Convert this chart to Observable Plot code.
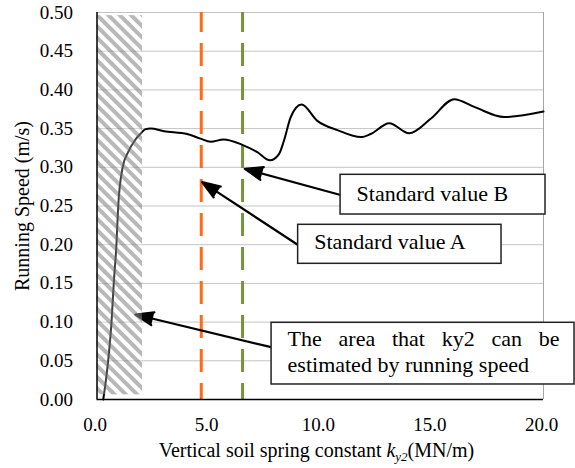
<!DOCTYPE html>
<html><head><meta charset="utf-8">
<script src="https://cdn.jsdelivr.net/npm/d3@7"></script>
<script src="https://cdn.jsdelivr.net/npm/@observablehq/plot@0.6"></script>
<style>body{margin:0;background:#fff} svg{display:block} svg, svg text{font-family:'Liberation Serif','Times New Roman',serif !important}</style>
</head><body><div id="chart"></div>
<script>
// Curve: vertical soil spring constant (MN/m) vs running speed (m/s)
const ky2   = [0.28, 0.50, 0.65, 0.75, 0.87, 0.95, 1.15, 1.40, 1.70, 1.97, 2.15, 2.40, 3.0, 4.04, 4.64, 5.09, 5.67, 6.51, 7.18, 7.75, 8.15, 8.38, 8.68, 9.16, 9.87, 10.77, 11.82, 12.26, 13.09, 13.98, 14.96, 16.0, 16.9, 18.24, 20.0];
const speed = [0.0, 0.05, 0.10, 0.15, 0.20, 0.25, 0.30, 0.32, 0.335, 0.344, 0.349, 0.350, 0.3467, 0.343, 0.337, 0.333, 0.336, 0.329, 0.3195, 0.309, 0.317, 0.335, 0.365, 0.381, 0.360, 0.348, 0.339, 0.343, 0.357, 0.344, 0.363, 0.388, 0.378, 0.365, 0.372];

const xTicks = [0, 5, 10, 15, 20];
const yTicks = [0, 0.05, 0.10, 0.15, 0.20, 0.25, 0.30, 0.35, 0.40, 0.45, 0.50];

// Standard values (dashed vertical lines)
const standardX = [4.67, 6.52];
const standardColors = ["#FF6A13", "#77933C"];

// Hatched area where ky2 can be estimated
const hatchX = [0, 2.04];
const hatchY = [0.006, 0.496];

// Annotation boxes (data units)
const boxX1 = [10.91, 9.01, 7.82];
const boxX2 = [20.09, 18.12, 21.39];
const boxY1 = [0.2390, 0.1753, 0.0194];
const boxY2 = [0.2903, 0.2257, 0.0991];

const labels = ["Standard value B", "Standard value A", "The area that ky2 can be", "estimated by running speed"];
const labelX = [10.91, 9.01, 7.82, 7.82];
const labelY = [0.266, 0.204, 0.0788, 0.0443];

// Arrows (from box to target)
const arrowX1 = [10.91, 9.04, 7.80];
const arrowY1 = [0.2642, 0.199, 0.0676];
const arrowX2 = [6.62, 4.71, 1.72];
const arrowY2 = [0.2981, 0.2808, 0.1098];

const standards = standardX.map((x, i) => ({x, color: standardColors[i]}));
const boxes = boxX1.map((x1, i) => ({x1, x2: boxX2[i], y1: boxY1[i], y2: boxY2[i]}));
const arrows = arrowX1.map((x1, i) => ({x1, y1: arrowY1[i], x2: arrowX2[i], y2: arrowY2[i]}));

const FONT = "'Liberation Serif', 'Times New Roman', serif";

const svg = Plot.plot({
  width: 575, height: 468,
  marginLeft: 96.5, marginRight: 32, marginTop: 12, marginBottom: 69,
  style: {fontSize: "19px", color: "black", background: "white"},
  x: {domain: [0, 20]},
  y: {domain: [0, 0.5]},
  color: {type: "identity"},
  marks: [
    Plot.gridY(yTicks.filter(v => v > 0), {stroke: "#c4c4c4", strokeOpacity: 1, strokeWidth: 1}),
    Plot.ruleX([20], {stroke: "#a6a6a6", strokeWidth: 1}),
    Plot.ruleX(standards, {x: "x", stroke: "color", strokeWidth: 3, strokeDasharray: "23,11", strokeDashoffset: 3}),
    Plot.line(ky2, {x: ky2, y: speed, curve: "monotone-x", stroke: "black", strokeWidth: 2}),
    Plot.arrow(arrows, {x1: "x1", y1: "y1", x2: "x2", y2: "y2", stroke: "black", strokeWidth: 2.2, headLength: 13, headAngle: 40}),
    Plot.rect([0], {x1: hatchX[0], x2: hatchX[1], y1: hatchY[0], y2: hatchY[1], fill: "url(#hatch)"}),
    Plot.ruleX([0], {stroke: "black", strokeWidth: 1.5}),
    Plot.ruleY([0], {stroke: "black", strokeWidth: 1.5}),
    Plot.rect(boxes, {x1: "x1", x2: "x2", y1: "y1", y2: "y2", fill: "white", stroke: "#222", strokeWidth: 1.5}),
    Plot.text(labels, {x: labelX, y: labelY, text: labels, textAnchor: "start", dx: 16, fontSize: 22, fill: "black", fontFamily: FONT}),
    Plot.axisY(yTicks, {tickSize: 0, tickPadding: 24, tickFormat: d3.format(".2f"), fontSize: 19, label: null, fontFamily: FONT}),
    Plot.axisX(xTicks, {tickSize: 0, tickPadding: 17.5, tickFormat: d3.format(".1f"), fontSize: 19, label: null, dx: -2, fontFamily: FONT})
  ]
});

const s = d3.select(svg);
s.attr("font-family", FONT).style("font-family", FONT);
const defs = s.insert("defs", ":first-child");
const pat = defs.append("pattern").attr("id", "hatch").attr("patternUnits", "userSpaceOnUse")
  .attr("width", 8).attr("height", 8).attr("patternTransform", "rotate(-45)");
pat.append("rect").attr("width", 4).attr("height", 8).attr("fill", "#888").attr("fill-opacity", 0.6);
pat.append("rect").attr("x", 4).attr("width", 4).attr("height", 8).attr("fill", "white").attr("fill-opacity", 0.25);

// filled arrow heads
s.selectAll("g[aria-label='arrow'] path").attr("fill", "black").attr("stroke-linejoin", "miter");

// Axis titles
const xt = s.append("text").attr("x", 316.5).attr("y", 457).attr("text-anchor", "middle")
  .attr("font-size", 20).attr("fill", "black");
xt.append("tspan").text("Vertical soil spring constant ");
xt.append("tspan").attr("font-style", "italic").text("k");
xt.append("tspan").attr("font-style", "italic").attr("font-size", 13).attr("dy", 4).text("y2");
xt.append("tspan").attr("dy", -4).text("(MN/m)");

s.append("text").attr("transform", "translate(29,206) rotate(-90)").attr("text-anchor", "middle")
  .attr("font-size", 20).attr("fill", "black").text("Running Speed (m/s)");

document.getElementById("chart").appendChild(svg);

// justify first line of the area annotation by widening word spacing
s.selectAll("text").filter(function() { return this.textContent === "The area that ky2 can be"; })
  .each(function() {
    const w = this.getComputedTextLength();
    const ws = Math.max(0, (272 - w) / 5);
    d3.select(this).style("word-spacing", ws + "px");
  });
</script>
</body></html>
